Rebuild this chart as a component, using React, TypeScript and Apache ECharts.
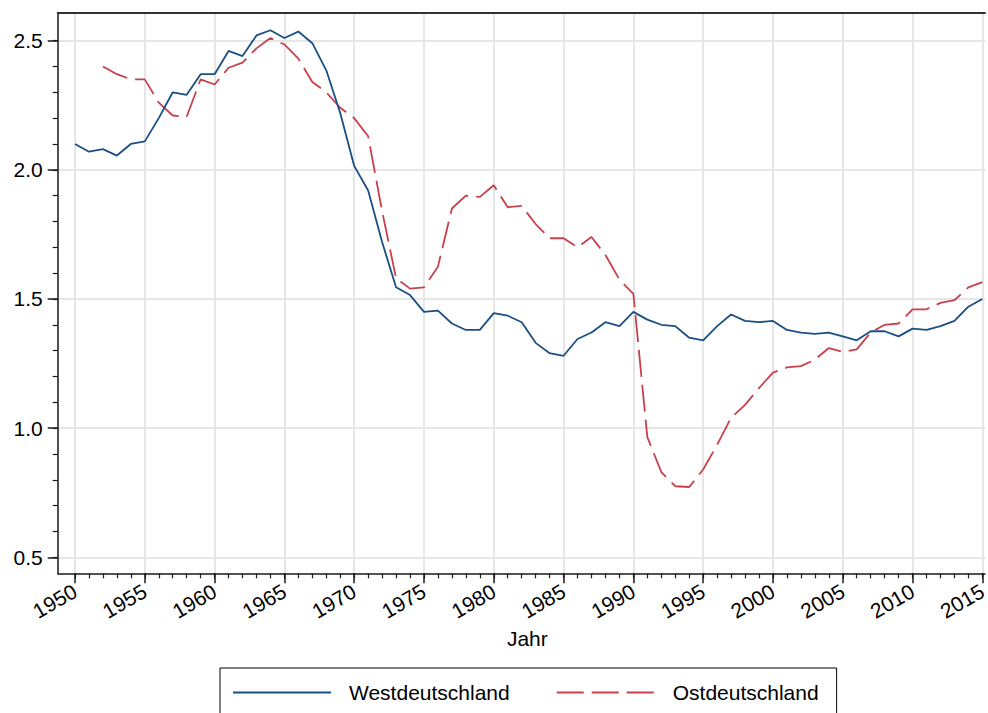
import React, { useEffect, useRef } from "react";
import * as echarts from "echarts";

const years: number[] = [
  1950, 1951, 1952, 1953, 1954, 1955, 1956, 1957, 1958, 1959,
  1960, 1961, 1962, 1963, 1964, 1965, 1966, 1967, 1968, 1969,
  1970, 1971, 1972, 1973, 1974, 1975, 1976, 1977, 1978, 1979,
  1980, 1981, 1982, 1983, 1984, 1985, 1986, 1987, 1988, 1989,
  1990, 1991, 1992, 1993, 1994, 1995, 1996, 1997, 1998, 1999,
  2000, 2001, 2002, 2003, 2004, 2005, 2006, 2007, 2008, 2009,
  2010, 2011, 2012, 2013, 2014, 2015,
];

const westValues: number[] = [
  2.10, 2.07, 2.08, 2.055, 2.10, 2.11, 2.20, 2.30, 2.29, 2.37,
  2.37, 2.46, 2.44, 2.52, 2.54, 2.51, 2.535, 2.49, 2.385, 2.22,
  2.015, 1.92, 1.72, 1.545, 1.515, 1.45, 1.455, 1.405, 1.38, 1.38,
  1.445, 1.435, 1.41, 1.33, 1.29, 1.28, 1.345, 1.37, 1.41, 1.395,
  1.45, 1.42, 1.40, 1.395, 1.35, 1.34, 1.395, 1.44, 1.415, 1.41,
  1.415, 1.38, 1.37, 1.365, 1.37, 1.355, 1.34, 1.375, 1.375, 1.355,
  1.385, 1.38, 1.395, 1.415, 1.47, 1.50,
];

const eastValues: (number | null)[] = [
  null, null, 2.40, 2.37, 2.35, 2.35, 2.26, 2.21, 2.205, 2.35,
  2.33, 2.395, 2.415, 2.47, 2.51, 2.485, 2.43, 2.34, 2.30, 2.24,
  2.20, 2.13, 1.84, 1.58, 1.54, 1.545, 1.625, 1.85, 1.90, 1.895,
  1.94, 1.855, 1.86, 1.79, 1.735, 1.735, 1.70, 1.74, 1.67, 1.575,
  1.52, 0.965, 0.83, 0.775, 0.772, 0.84, 0.935, 1.04, 1.09, 1.155,
  1.215, 1.235, 1.24, 1.265, 1.31, 1.295, 1.305, 1.37, 1.40, 1.405,
  1.46, 1.46, 1.485, 1.495, 1.545, 1.565,
];

const xMajorTicks: number[] = [
  1950, 1955, 1960, 1965, 1970, 1975, 1980, 1985, 1990, 1995, 2000, 2005, 2010, 2015,
];
const yMajorTicks: number[] = [0.5, 1.0, 1.5, 2.0, 2.5];
const yMinorTicks: number[] = [
  0.5, 0.6, 0.7, 0.8, 0.9, 1.0, 1.1, 1.2, 1.3, 1.4, 1.5, 1.6, 1.7, 1.8, 1.9,
  2.0, 2.1, 2.2, 2.3, 2.4, 2.5,
];

const seriesNames = ["Westdeutschland", "Ostdeutschland"];
const xName = "Jahr";

const FONT = "'Liberation Sans', Arial, Helvetica, sans-serif";
const AXIS_COLOR = "#1a1a1a";
const GRID_COLOR = "#e6e6e6";
const WEST_COLOR = "#1a4f86";
const EAST_COLOR = "#c8404c";

export default function App() {
  const ref = useRef<HTMLDivElement>(null);

  useEffect(() => {
    if (!ref.current) return;
    const chart = echarts.init(ref.current, null, { renderer: "svg" });

    const xMin = 1948.76;
    const xMax = 2015.19;
    const yMin = 0.438;
    const yMax = 2.608;

    const westData = years.map((y, i) => [y, westValues[i]]);
    const eastData = years.map((y, i) => [y, eastValues[i]]);

    const gridMarks = [
      ...xMajorTicks.map((v) => ({ xAxis: v })),
      ...yMajorTicks.map((v) => ({ yAxis: v })),
    ];

    chart.setOption({
      animation: false,
      backgroundColor: "#ffffff",
      textStyle: { fontFamily: FONT },
      grid: {
        left: 57.7,
        right: 3,
        top: 12.7,
        bottom: 139.7,
        containLabel: false,
        outerBoundsMode: "none",
      },
      legend: {
        data: seriesNames,
        left: 220,
        top: 668,
        orient: "horizontal",
        itemWidth: 98,
        itemHeight: 14,
        itemGap: 46,
        padding: [14, 18, 24, 12],
        borderColor: "#000",
        borderWidth: 1,
        itemStyle: { opacity: 0 },
        textStyle: {
          fontSize: 21,
          color: "#000",
          fontFamily: FONT,
          padding: [0, 0, 0, 13],
        },
      },
      xAxis: [
        {
          type: "value",
          min: xMin,
          max: xMax,
          position: "bottom",
          name: xName,
          nameLocation: "middle",
          nameGap: 55,
          nameTextStyle: {
            fontSize: 21,
            color: "#000",
            fontFamily: FONT,
            padding: [0, 0, 0, 12],
          },
          axisLine: { show: true, lineStyle: { color: AXIS_COLOR, width: 1.5 } },
          axisTick: {
            show: true,
            customValues: xMajorTicks,
            length: 10,
            lineStyle: { color: AXIS_COLOR, width: 1.5 },
          },
          axisLabel: {
            show: true,
            customValues: xMajorTicks,
            rotate: 30,
            fontSize: 21,
            color: "#000",
            fontFamily: FONT,
            margin: 16,
            formatter: (v: number) => String(Math.round(v)),
          },
          splitLine: { show: false },
        },
        {
          type: "value",
          min: xMin,
          max: xMax,
          position: "bottom",
          axisLine: { show: false },
          axisTick: {
            show: true,
            customValues: years,
            length: 5,
            lineStyle: { color: AXIS_COLOR, width: 1.2 },
          },
          axisLabel: { show: false },
          splitLine: { show: false },
        },
        {
          type: "value",
          min: xMin,
          max: xMax,
          position: "top",
          axisLine: { show: true, onZero: false, lineStyle: { color: "#333", width: 2 } },
          axisTick: { show: false },
          axisLabel: { show: false },
          splitLine: { show: false },
        },
      ],
      yAxis: [
        {
          type: "value",
          min: yMin,
          max: yMax,
          position: "left",
          axisLine: { show: true, lineStyle: { color: AXIS_COLOR, width: 1.5 } },
          axisTick: {
            show: true,
            customValues: yMajorTicks,
            length: 10,
            lineStyle: { color: AXIS_COLOR, width: 1.5 },
          },
          axisLabel: {
            show: true,
            customValues: yMajorTicks,
            fontSize: 21,
            color: "#000",
            fontFamily: FONT,
            margin: 15,
            formatter: (v: number) => v.toFixed(1),
          },
          splitLine: { show: false },
        },
        {
          type: "value",
          min: yMin,
          max: yMax,
          position: "left",
          axisLine: { show: false },
          axisTick: {
            show: true,
            customValues: yMinorTicks,
            length: 5,
            lineStyle: { color: AXIS_COLOR, width: 1.2 },
          },
          axisLabel: { show: false },
          splitLine: { show: false },
        },
      ],
      series: [
        {
          name: "grid",
          type: "line",
          data: [],
          xAxisIndex: 0,
          yAxisIndex: 0,
          symbol: "none",
          silent: true,
          z: 0,
          markLine: {
            silent: true,
            z: 0,
            zlevel: 0,
            symbol: ["none", "none"],
            label: { show: false },
            lineStyle: { color: GRID_COLOR, width: 2, type: "solid" },
            emphasis: { disabled: true },
            data: gridMarks,
          },
        },
        {
          name: seriesNames[0],
          type: "line",
          data: westData,
          xAxisIndex: 0,
          yAxisIndex: 0,
          symbol: "none",
          showSymbol: false,
          connectNulls: false,
          lineStyle: { color: WEST_COLOR, width: 1.8, type: "solid" },
          itemStyle: { color: WEST_COLOR },
          z: 3,
        },
        {
          name: seriesNames[1],
          type: "line",
          data: eastData,
          xAxisIndex: 0,
          yAxisIndex: 0,
          symbol: "none",
          showSymbol: false,
          connectNulls: false,
          lineStyle: { color: EAST_COLOR, width: 1.8, type: [27, 8] },
          itemStyle: { color: EAST_COLOR },
          z: 2,
        },
      ],
    });

    return () => {
      chart.dispose();
    };
  }, []);

  return (
    <div
      ref={ref}
      style={{ position: "fixed", left: 0, top: 0, width: 988, height: 713, background: "#fff" }}
    />
  );
}
